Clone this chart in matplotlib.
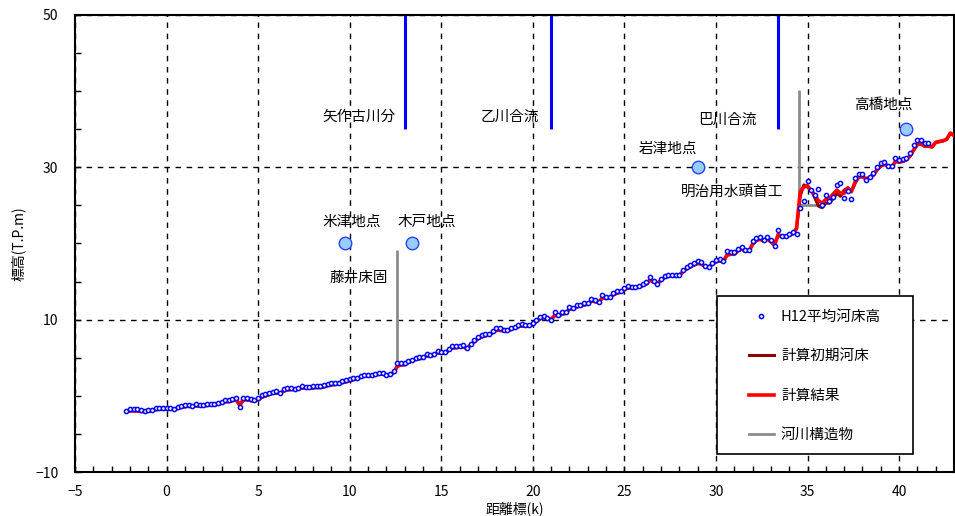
import numpy as np
import matplotlib
matplotlib.use("Agg")
import matplotlib.pyplot as plt
from matplotlib.ticker import MultipleLocator, FixedLocator
from matplotlib.patches import Rectangle
from matplotlib.lines import Line2D

plt.rcParams['font.family'] = ['Noto Sans CJK JP', 'DejaVu Sans']

# ---------------- data ----------------
DIST_STEP = 0.2
H12_START = -2.2          # km of first surveyed point
CALC_START = -2.2         # km of first computed node

# H12 mean bed elevation (T.P.m), every 0.2 km from -2.2 to 41.6
h12_bed = [
    -1.93, -1.76, -1.76, -1.76, -1.90, -2.00, -1.90, -1.90, -1.63, -1.63,
    -1.63, -1.63, -1.63, -1.68, -1.50, -1.30, -1.20, -1.20, -1.40, -1.06,
    -1.20, -1.25, -1.10, -1.06, -1.06, -0.97, -0.80, -0.50, -0.60, -0.45,
    -0.32, -1.50, -0.32, -0.32, -0.45, -0.50, -0.32, 0.08, 0.20, 0.40,
    0.55, 0.60, 0.34, 0.90, 1.00, 1.00, 0.95, 1.00, 1.30, 1.21,
    1.15, 1.25, 1.30, 1.25, 1.40, 1.55, 1.70, 1.70, 1.75, 1.95,
    2.05, 2.15, 2.30, 2.40, 2.60, 2.75, 2.75, 2.75, 2.90, 3.00,
    3.05, 2.75, 2.90, 3.20, 4.27, 4.27, 4.27, 4.60, 4.75, 4.95,
    5.05, 5.10, 5.45, 5.30, 5.50, 5.90, 5.75, 5.70, 6.20, 6.50,
    6.50, 6.55, 6.65, 6.30, 6.85, 7.30, 7.75, 7.95, 8.10, 8.15,
    8.50, 8.90, 8.85, 8.70, 8.60, 8.90, 9.10, 9.30, 9.45, 9.35,
    9.35, 9.50, 10.00, 10.40, 10.50, 10.25, 10.00, 11.05, 10.55, 10.95,
    10.95, 11.70, 11.55, 11.95, 11.95, 12.15, 12.20, 12.70, 12.55, 12.30,
    13.25, 12.95, 12.95, 13.50, 13.70, 13.75, 14.15, 14.45, 14.30, 14.35,
    14.45, 14.70, 14.90, 15.60, 15.05, 14.72, 15.35, 15.75, 15.90, 15.90,
    15.80, 15.90, 16.55, 16.95, 17.15, 17.40, 17.65, 17.55, 17.10, 16.90,
    17.45, 17.80, 17.95, 17.65, 18.95, 18.85, 18.85, 19.30, 19.60, 19.10,
    19.10, 20.30, 20.70, 20.90, 20.50, 20.90, 20.40, 19.70, 21.80, 21.00,
    21.05, 21.30, 21.55, 21.30, 24.64, 25.61, 28.23, 27.05, 26.39, 27.18,
    25.08, 26.39, 25.61, 26.17, 27.62, 27.92, 25.96, 26.83, 25.87, 28.66,
    29.10, 29.10, 28.36, 28.79, 29.23, 29.98, 30.55, 30.76, 30.24, 30.11,
    31.29, 30.98, 31.07, 31.29, 31.94, 32.90, 33.60, 33.60, 33.17, 33.17,
]

# computed initial bed, every 0.2 km from -2.2 to 43.0
init_bed = [
    -2.05, -2.0, -2.0, -2.0, -2.1, -2.1, -2.05, -2.0, -1.85, -1.8,
    -1.8, -1.8, -1.8, -1.8, -1.7, -1.55, -1.45, -1.4, -1.45, -1.35,
    -1.35, -1.35, -1.3, -1.25, -1.25, -1.15, -1.0, -0.8, -0.8, -0.65,
    -0.6, -1.3, -0.55, -0.55, -0.65, -0.7, -0.55, -0.2, -0.05, 0.15,
    0.3, 0.35, 0.3, 0.6, 0.75, 0.8, 0.8, 0.85, 1.0, 1.0,
    0.95, 1.0, 1.05, 1.05, 1.15, 1.3, 1.4, 1.45, 1.5, 1.7,
    1.8, 1.95, 2.1, 2.2, 2.4, 2.55, 2.55, 2.55, 2.7, 2.8,
    2.85, 2.65, 2.75, 3.0, 3.85, 4.05, 4.05, 4.35, 4.55, 4.75,
    4.85, 4.9, 5.25, 5.15, 5.3, 5.65, 5.55, 5.55, 5.95, 6.25,
    6.3, 6.35, 6.4, 6.15, 6.65, 7.05, 7.45, 7.7, 7.85, 7.95,
    8.25, 8.6, 8.65, 8.75, 8.5, 8.7, 8.9, 9.05, 9.15, 9.15,
    9.15, 9.3, 9.75, 10.1, 10.25, 10.05, 9.95, 10.55, 10.45, 10.7,
    10.8, 11.35, 11.35, 11.65, 11.75, 11.9, 12.0, 12.4, 12.35, 12.2,
    12.85, 12.75, 12.8, 13.25, 13.45, 13.65, 13.9, 14.15, 14.1, 14.15,
    14.25, 14.45, 14.65, 15.2, 14.9, 14.75, 15.1, 15.5, 15.65, 15.7,
    15.65, 15.75, 16.3, 16.65, 16.9, 17.15, 17.35, 17.3, 16.95, 16.85,
    17.25, 17.55, 17.7, 17.55, 18.45, 18.55, 18.55, 19.0, 19.25, 18.95,
    18.95, 19.85, 20.35, 20.55, 20.3, 20.55, 20.2, 19.75, 21.15, 20.85,
    20.9, 21.05, 21.25, 21.9, 26.2, 27.7, 27.4, 27.0, 26.0, 24.9,
    24.7, 25.3, 25.3, 25.9, 26.6, 26.2, 27.0, 27.3, 26.9, 27.9,
    28.7, 28.75, 28.45, 28.65, 28.95, 29.65, 30.15, 30.35, 30.15, 29.95,
    30.75, 30.65, 30.75, 30.95, 31.45, 32.25, 32.95, 33.05, 32.75, 32.75,
    32.65, 33.25, 33.35, 33.45, 33.65, 34.45, 34.15,
]

# computed result bed, every 0.2 km from -2.2 to 43.0
calc_bed = [
    -2.05, -1.95, -1.95, -1.95, -2.0, -2.05, -2.0, -1.95, -1.8, -1.75,
    -1.75, -1.75, -1.75, -1.75, -1.65, -1.5, -1.4, -1.35, -1.4, -1.3,
    -1.3, -1.3, -1.25, -1.2, -1.2, -1.1, -0.95, -0.75, -0.75, -0.6,
    -0.55, -1.1, -0.5, -0.5, -0.6, -0.65, -0.5, -0.15, 0.0, 0.2,
    0.35, 0.4, 0.35, 0.65, 0.8, 0.85, 0.85, 0.9, 1.1, 1.1,
    1.05, 1.1, 1.15, 1.15, 1.25, 1.4, 1.5, 1.55, 1.6, 1.8,
    1.9, 2.0, 2.15, 2.25, 2.45, 2.6, 2.6, 2.6, 2.75, 2.85,
    2.9, 2.7, 2.8, 3.05, 3.9, 4.1, 4.1, 4.4, 4.6, 4.8,
    4.9, 4.95, 5.3, 5.2, 5.35, 5.7, 5.6, 5.6, 6.0, 6.3,
    6.35, 6.4, 6.45, 6.25, 6.7, 7.1, 7.5, 7.75, 7.9, 8.0,
    8.3, 8.6, 8.6, 8.5, 8.5, 8.7, 8.9, 9.1, 9.2, 9.2,
    9.2, 9.35, 9.8, 10.15, 10.3, 10.1, 10.0, 10.6, 10.5, 10.75,
    10.85, 11.4, 11.4, 11.7, 11.8, 11.95, 12.05, 12.45, 12.4, 12.25,
    12.9, 12.8, 12.85, 13.3, 13.5, 13.6, 13.95, 14.2, 14.15, 14.2,
    14.3, 14.5, 14.7, 15.2, 14.95, 14.8, 15.15, 15.55, 15.7, 15.75,
    15.7, 15.8, 16.35, 16.7, 16.95, 17.2, 17.4, 17.35, 17.0, 16.9,
    17.3, 17.6, 17.75, 17.6, 18.5, 18.6, 18.6, 19.05, 19.3, 19.0,
    19.0, 19.9, 20.4, 20.6, 20.35, 20.6, 20.25, 19.8, 21.2, 20.9,
    20.95, 21.1, 21.3, 22.0, 26.8, 27.4, 27.6, 26.9, 26.4, 25.6,
    25.3, 25.8, 25.9, 26.5, 27.0, 26.6, 26.6, 27.3, 26.8, 28.1,
    28.8, 28.8, 28.5, 28.7, 29.0, 29.7, 30.2, 30.4, 30.2, 30.0,
    30.8, 30.7, 30.8, 31.0, 31.5, 32.3, 33.0, 33.1, 32.8, 32.8,
    32.7, 33.3, 33.4, 33.5, 33.7, 34.5, 34.2,
]

# tributaries (blue vertical bars, from 50 down to the given level)
trib_km = [13.0, 21.0, 33.4]
trib_bottom = [35.0, 35.0, 35.0]
trib_names = ['矢作古川分', '乙川合流', '巴川合流']
trib_label_km = [10.5, 18.75, 30.65]
trib_label_z = [36.6, 36.6, 36.2]

# river structures (gray lines)
struct_names = ['藤井床固', '明治用水頭首工']
struct_x = [[12.6, 12.6], [34.55, 34.55, 35.7]]
struct_z = [[19.2, 4.3], [40.1, 25.0, 25.0]]
struct_label_km = [10.52, 30.87]
struct_label_z = [15.5, 26.8]

# gauging stations
stn_names = ['米津地点', '木戸地点', '岩津地点', '高橋地点']
stn_km = [9.75, 13.4, 29.0, 40.4]
stn_z = [20.0, 20.0, 30.1, 35.0]
stn_label_km = [10.1, 14.2, 27.4, 39.13]
stn_label_z = [22.8, 22.8, 32.5, 38.2]

legend_labels = ['H12平均河床高', '計算初期河床', '計算結果', '河川構造物']

x_ticks = [-5, 0, 5, 10, 15, 20, 25, 30, 35, 40]
y_ticks = [-10, 10, 30, 50]

# ---------------- figure ----------------
W, H = 955, 516
fig = plt.figure(figsize=(W / 100, H / 100), dpi=100)
ax = fig.add_axes([75 / W, 44 / H, 879 / W, 457 / H])

h12_km = H12_START + DIST_STEP * np.arange(len(h12_bed))
calc_km = CALC_START + DIST_STEP * np.arange(len(calc_bed))
init_km = CALC_START + DIST_STEP * np.arange(len(init_bed))

GRAY = '#8c8c8c'
for xs, zs in zip(struct_x, struct_z):
    ax.plot(xs, zs, color=GRAY, lw=2.0, zorder=2, solid_capstyle='butt')

for k, b in zip(trib_km, trib_bottom):
    ax.plot([k, k], [b, 50], color='#0000ff', lw=2.2, zorder=2, solid_capstyle='butt')

ax.plot(init_km, init_bed, color='#8b0000', lw=2.2, zorder=3)
ax.plot(calc_km, calc_bed, color='#ff0000', lw=2.6, zorder=4)
ax.plot(h12_km, h12_bed, ls='none', marker='o', ms=3.0, mfc='white',
        mec='#0000ff', mew=1.1, zorder=5)

ax.plot(stn_km, stn_z, ls='none', marker='o', ms=9, mfc='#99ccff',
        mec='#2244ff', mew=1.0, zorder=5)

FS = 10.5
for name, k, z in zip(trib_names, trib_label_km, trib_label_z):
    ax.text(k, z, name, ha='center', va='center', fontsize=FS, zorder=6)
for name, k, z in zip(struct_names, struct_label_km, struct_label_z):
    ax.text(k, z, name, ha='center', va='center', fontsize=FS, zorder=6)
for name, k, z in zip(stn_names, stn_label_km, stn_label_z):
    ax.text(k, z, name, ha='center', va='center', fontsize=FS, zorder=6)

ax.set_xlim(-5, 43)
ax.set_ylim(-10, 50)
ax.xaxis.set_major_locator(FixedLocator(x_ticks))
ax.xaxis.set_minor_locator(MultipleLocator(1))
ax.yaxis.set_major_locator(FixedLocator(y_ticks))
ax.yaxis.set_minor_locator(MultipleLocator(5))
ax.tick_params(which='both', direction='in', top=False, right=False,
               labelsize=10, width=1.0)
ax.tick_params(which='major', length=4, pad=9)
ax.tick_params(which='minor', length=4)
ax.tick_params(axis='y', pad=12)
ax.grid(True, which='major', color='black', ls=(0, (4, 4)), lw=1.0)
for s in ax.spines.values():
    s.set_linewidth(1.5)

ax.set_xlabel('距離標(k)', fontsize=10, labelpad=2)
ax.set_ylabel('標高(T.P.m)', fontsize=10, labelpad=7)

# legend box
rect = Rectangle((717 / W, 1 - 454 / H), 196 / W, 158 / H, transform=fig.transFigure,
                 facecolor='white', edgecolor='black', lw=1.2, zorder=6, clip_on=False)
ax.add_artist(rect)
handles = [
    Line2D([], [], ls='none', marker='o', ms=3.0, mfc='white', mec='#0000ff', mew=1.1),
    Line2D([], [], color='#8b0000', lw=2.2),
    Line2D([], [], color='#ff0000', lw=2.6),
    Line2D([], [], color=GRAY, lw=2.0),
]
leg = ax.legend(handles, legend_labels, loc='center',
                bbox_to_anchor=(815 / W, 1 - 376 / H), bbox_transform=fig.transFigure,
                frameon=False, fontsize=FS, handlelength=1.7, handletextpad=0.5,
                labelspacing=1.75, numpoints=1, borderpad=0.2)
leg.set_zorder(7)

fig.savefig('out.png', dpi=100)
